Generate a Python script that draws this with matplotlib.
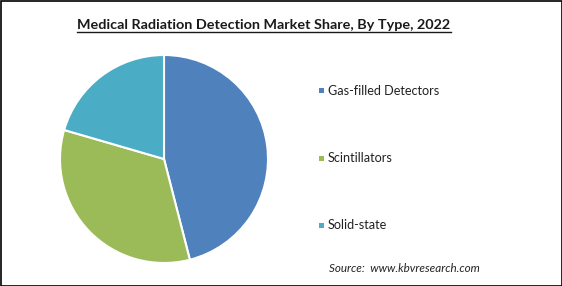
import matplotlib
matplotlib.use("Agg")
import matplotlib.pyplot as plt
from matplotlib.lines import Line2D
from matplotlib.patches import Rectangle

# data
categories = ["Gas-filled Detectors", "Scintillators", "Solid-state"]
shares = [46.0, 33.5, 20.5]
colors = ["#4F81BD", "#9BBB59", "#4BACC6"]

title = "Medical Radiation Detection Market Share, By Type, 2022"
source = "Source:  www.kbvresearch.com"

plt.rcParams["font.family"] = ["Lato", "DejaVu Sans"]

W, H = 562, 286
fig = plt.figure(figsize=(W / 100, H / 100), dpi=100)
fig.patch.set_facecolor("white")

# pie axes: center ~ (164,159) px, radius ~104 px
cx, cy, r = 164, 159, 104
ax = fig.add_axes([(cx - r) / W, (H - cy - r) / H, 2 * r / W, 2 * r / H])
ax.pie(shares, colors=colors, startangle=90, counterclock=False,
       wedgeprops=dict(edgecolor="white", linewidth=1.5))
ax.set_aspect("equal")
ax.set_xlim(-1, 1)
ax.set_ylim(-1, 1)
ax.axis("off")

# title with underline
t = fig.text(0.5 - 17 / W, 1 - 25 / H, title, ha="center", va="center",
             fontsize=10.4, fontweight="bold", color="#1a1a1a")
fig.canvas.draw()
bb = t.get_window_extent(fig.canvas.get_renderer())
uy = (bb.y0 - 0.5) / H
fig.add_artist(Line2D([bb.x0 / W, bb.x1 / W], [uy, uy],
                      color="#1a1a1a", lw=1.0, transform=fig.transFigure))

# legend, drawn by hand to match spacing
leg_y = [91, 158, 225]
for name, col, y in zip(categories, colors, leg_y):
    fig.add_artist(Rectangle(((321 - 2.5) / W, (H - y - 2.5) / H), 5 / W, 5 / H,
                             facecolor=col, edgecolor="none",
                             transform=fig.transFigure))
    fig.text(328 / W, 1 - y / H, name, ha="left", va="center",
             fontsize=9.1, color="#222222")

fig.text(480 / W, 1 - 268 / H, source, ha="right", va="center",
         fontsize=8.4, style="italic", color="#222222")

# outer frame
fig.add_artist(Rectangle((0.5 / W, 0.5 / H), 1 - 1 / W, 1 - 1 / H, fill=False,
                         edgecolor="black", lw=1.2, transform=fig.transFigure))

fig.savefig("out.png", dpi=100)
